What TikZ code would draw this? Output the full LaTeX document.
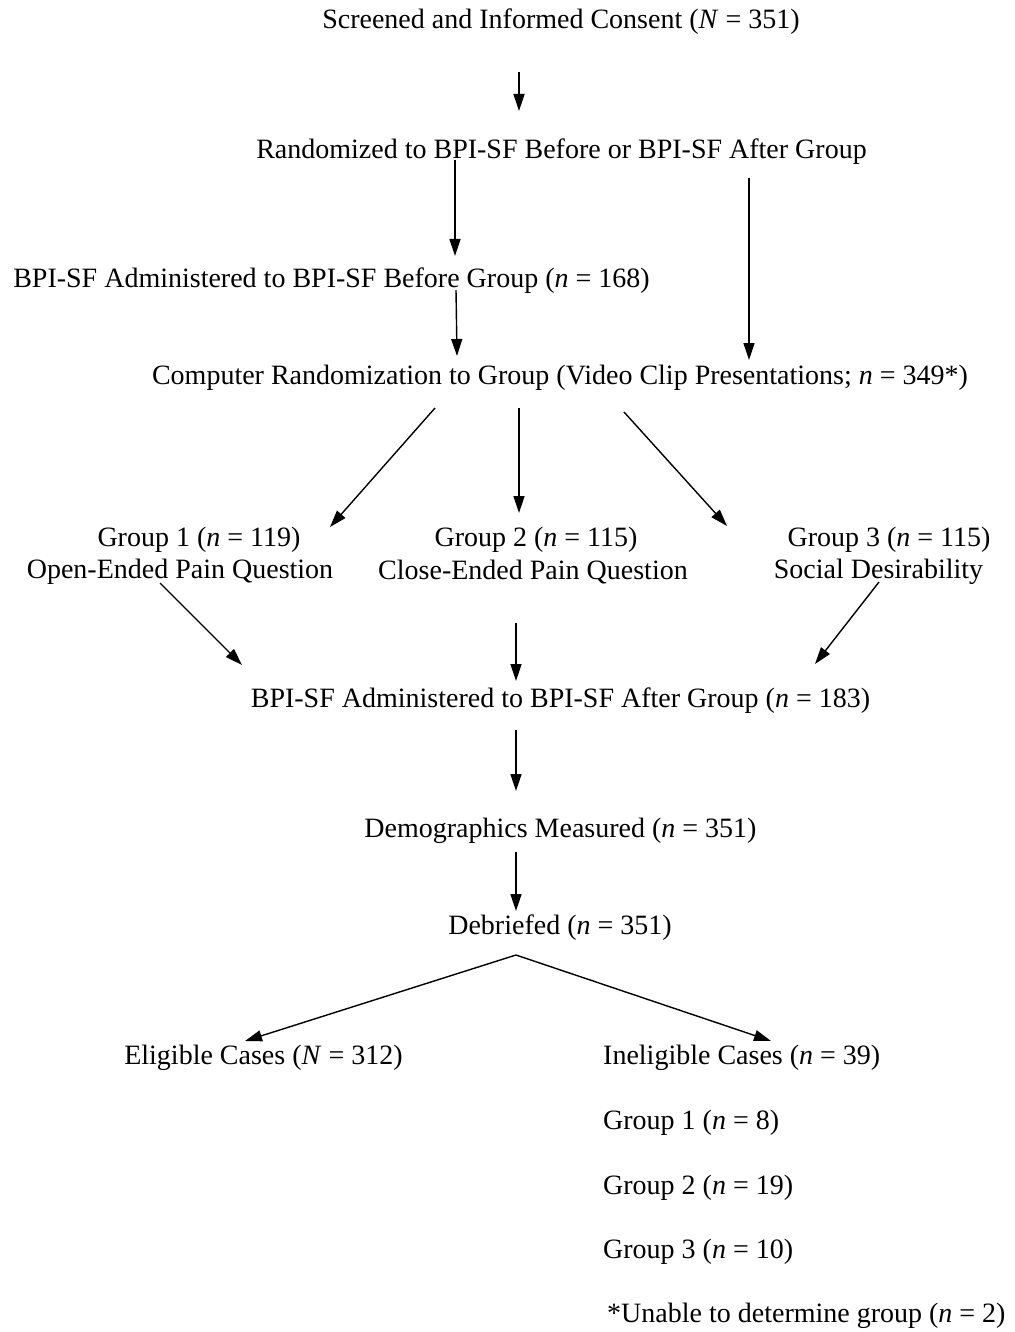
\documentclass[tikz,border=0pt]{standalone}
\usepackage{fontspec}
\setmainfont{Liberation Serif}
\usetikzlibrary{arrows.meta}
\begin{document}
\begin{tikzpicture}[x=1pt,y=-1pt,
  lbl/.style={inner sep=0pt,yshift=-3pt,font=\fontsize{28}{32}\selectfont},
  arr/.style={line width=1.4pt,-{Triangle[length=17pt,width=11pt]}}]
\useasboundingbox[fill=white] (0,0) rectangle (1014,1332);
% texts
\node[lbl] (consent) at (561,19) {Screened and Informed Consent (\textit{N} = 351)};
\node[lbl] (rand) at (561.5,149) {Randomized to BPI-SF Before or BPI-SF After Group};
\node[lbl] (before) at (331.5,278) {BPI-SF Administered to BPI-SF Before Group (\textit{n} = 168)};
\node[lbl] (comp) at (560,375) {Computer Randomization to Group (Video Clip Presentations; \textit{n} = 349*)};
\node[lbl] (g1a) at (199,537) {Group 1 (\textit{n} = 119)};
\node[lbl] (g1b) at (180,569) {Open-Ended Pain Question};
\node[lbl] (g2a) at (536,537) {Group 2 (\textit{n} = 115)};
\node[lbl] (g2b) at (533,569) {Close-Ended Pain Question};
\node[lbl] (g3a) at (889,537) {Group 3 (\textit{n} = 115)};
\node[lbl] (g3b) at (878.5,569) {Social Desirability};
\node[lbl] (after) at (560.5,698) {BPI-SF Administered to BPI-SF After Group (\textit{n} = 183)};
\node[lbl] (demo) at (560.5,828) {Demographics Measured (\textit{n} = 351)};
\node[lbl] (deb) at (560,925) {Debriefed (\textit{n} = 351)};
\node[lbl] (elig) at (263.5,1055) {Eligible Cases (\textit{N} = 312)};
\node[lbl,anchor=west] (inel) at (603,1055) {Ineligible Cases (\textit{n} = 39)};
\node[lbl,anchor=west] (ig1) at (603,1120) {Group 1 (\textit{n} = 8)};
\node[lbl,anchor=west] (ig2) at (603,1185) {Group 2 (\textit{n} = 19)};
\node[lbl,anchor=west] (ig3) at (603,1249) {Group 3 (\textit{n} = 10)};
\node[lbl,anchor=west] (note) at (607,1313) {*Unable to determine group (\textit{n} = 2)};
% connector end points
\coordinate (a1s) at (519,72);  \coordinate (a1e) at (519,111);
\coordinate (a2s) at (455,160); \coordinate (a2e) at (455,256);
\coordinate (a3s) at (749,178); \coordinate (a3e) at (749,360);
\coordinate (a4s) at (456,290); \coordinate (a4e) at (457,356);
\coordinate (a5s) at (435,408); \coordinate (a5e) at (330,527);
\coordinate (a6s) at (519,408); \coordinate (a6e) at (519,513);
\coordinate (a7s) at (624,412); \coordinate (a7e) at (727,526);
\coordinate (a8s) at (160,583); \coordinate (a8e) at (242,665);
\coordinate (a9s) at (516,623); \coordinate (a9e) at (516,681);
\coordinate (a10s) at (879,582); \coordinate (a10e) at (815,664);
\coordinate (a11s) at (516,730); \coordinate (a11e) at (516,791);
\coordinate (a12s) at (516,852); \coordinate (a12e) at (516,911);
\coordinate (split) at (516,955);
\coordinate (a13e) at (245,1041); \coordinate (a14e) at (771,1041);
% connectors
\draw[arr] (a1s) -- (a1e);
\draw[arr] (a2s) -- (a2e);
\draw[arr] (a3s) -- (a3e);
\draw[arr] (a4s) -- (a4e);
\draw[arr] (a5s) -- (a5e);
\draw[arr] (a6s) -- (a6e);
\draw[arr] (a7s) -- (a7e);
\draw[arr] (a8s) -- (a8e);
\draw[arr] (a9s) -- (a9e);
\draw[arr] (a10s) -- (a10e);
\draw[arr] (a11s) -- (a11e);
\draw[arr] (a12s) -- (a12e);
\draw[arr] (split) -- (a13e);
\draw[arr] (split) -- (a14e);
\end{tikzpicture}
\end{document}
